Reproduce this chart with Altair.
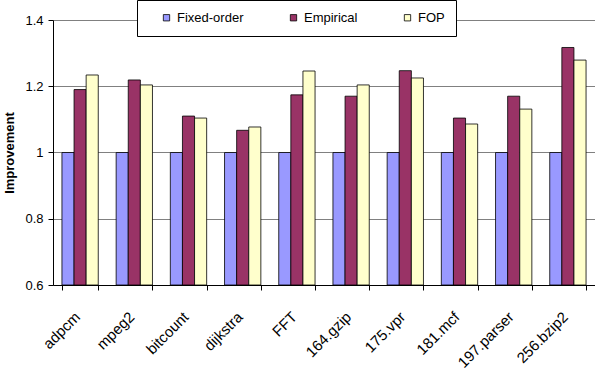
import altair as alt
import pandas as pd

categories = ["adpcm", "mpeg2", "bitcount", "dijkstra", "FFT", "164.gzip",
              "175.vpr", "181.mcf", "197.parser", "256.bzip2"]
series = ["Fixed-order", "Empirical", "FOP"]
fixed_order = [1.0, 1.0, 1.0, 1.0, 1.0, 1.0, 1.0, 1.0, 1.0, 1.0]
empirical = [1.19, 1.219, 1.110, 1.067, 1.174, 1.170, 1.247, 1.104, 1.170, 1.317]
fop = [1.234, 1.204, 1.104, 1.077, 1.246, 1.204, 1.225, 1.086, 1.131, 1.279]
colors = ["#9999FF", "#993366", "#FFFFCC"]

rows = []
for i, c in enumerate(categories):
    for s, vals in zip(series, [fixed_order, empirical, fop]):
        rows.append({"benchmark": c, "series": s, "value": vals[i], "base": 0.6})
df = pd.DataFrame(rows)

chart = alt.Chart(df).mark_bar(stroke="#000000", strokeWidth=0.8).encode(
    x=alt.X("benchmark:N", sort=categories, title=None,
            scale=alt.Scale(paddingInner=0.33, paddingOuter=0.165),
            axis=alt.Axis(labelAngle=-45, labelAlign="right", labelBaseline="middle",
                          labelFontSize=15, labelColor="#000000", labelPadding=24,
                          labelOffset=-3,
                          tickBand="extent", tickColor="#000000", tickSize=5,
                          domainColor="#000000", labelFont="Liberation Sans")),
    xOffset=alt.XOffset("series:N", sort=series, scale=alt.Scale(paddingInner=0, paddingOuter=0)),
    y=alt.Y("value:Q", title="Improvement",
            scale=alt.Scale(domain=[0.6, 1.4], zero=False, nice=False),
            axis=alt.Axis(values=[0.6, 0.8, 1.0, 1.2, 1.4], format="~g",
                          labelFontSize=13, labelColor="#000000", labelPadding=5,
                          tickColor="#000000", tickSize=5, domainColor="#000000",
                          gridColor="#808080", gridWidth=1.2,
                          titleFontSize=13, titleFontWeight="bold", titlePadding=8,
                          labelFont="Liberation Sans", titleFont="Liberation Sans")),
    y2="base:Q",
    color=alt.Color("series:N", sort=series,
                    scale=alt.Scale(domain=series, range=colors),
                    legend=alt.Legend(title=None, orient="none", direction="horizontal",
                                      legendX=84, legendY=-20,
                                      fillColor="#FFFFFF", strokeColor="#000000",
                                      padding=11, symbolOffset=12,
                                      symbolType="square", symbolSize=40,
                                      symbolStrokeColor="#000000", symbolStrokeWidth=0.8,
                                      labelFontSize=13, labelFont="Liberation Sans",
                                      labelColor="#000000", labelOffset=4,
                                      columnPadding=31)),
).properties(
    width=542, height=265,
    autosize=alt.AutoSizeParams(type="none"),
    padding={"left": 53, "top": 20, "right": 0, "bottom": 91},
).configure_view(stroke=None).configure_axisX(grid=False)

chart.save("out.html", embed_options={"renderer": "svg", "actions": False})
